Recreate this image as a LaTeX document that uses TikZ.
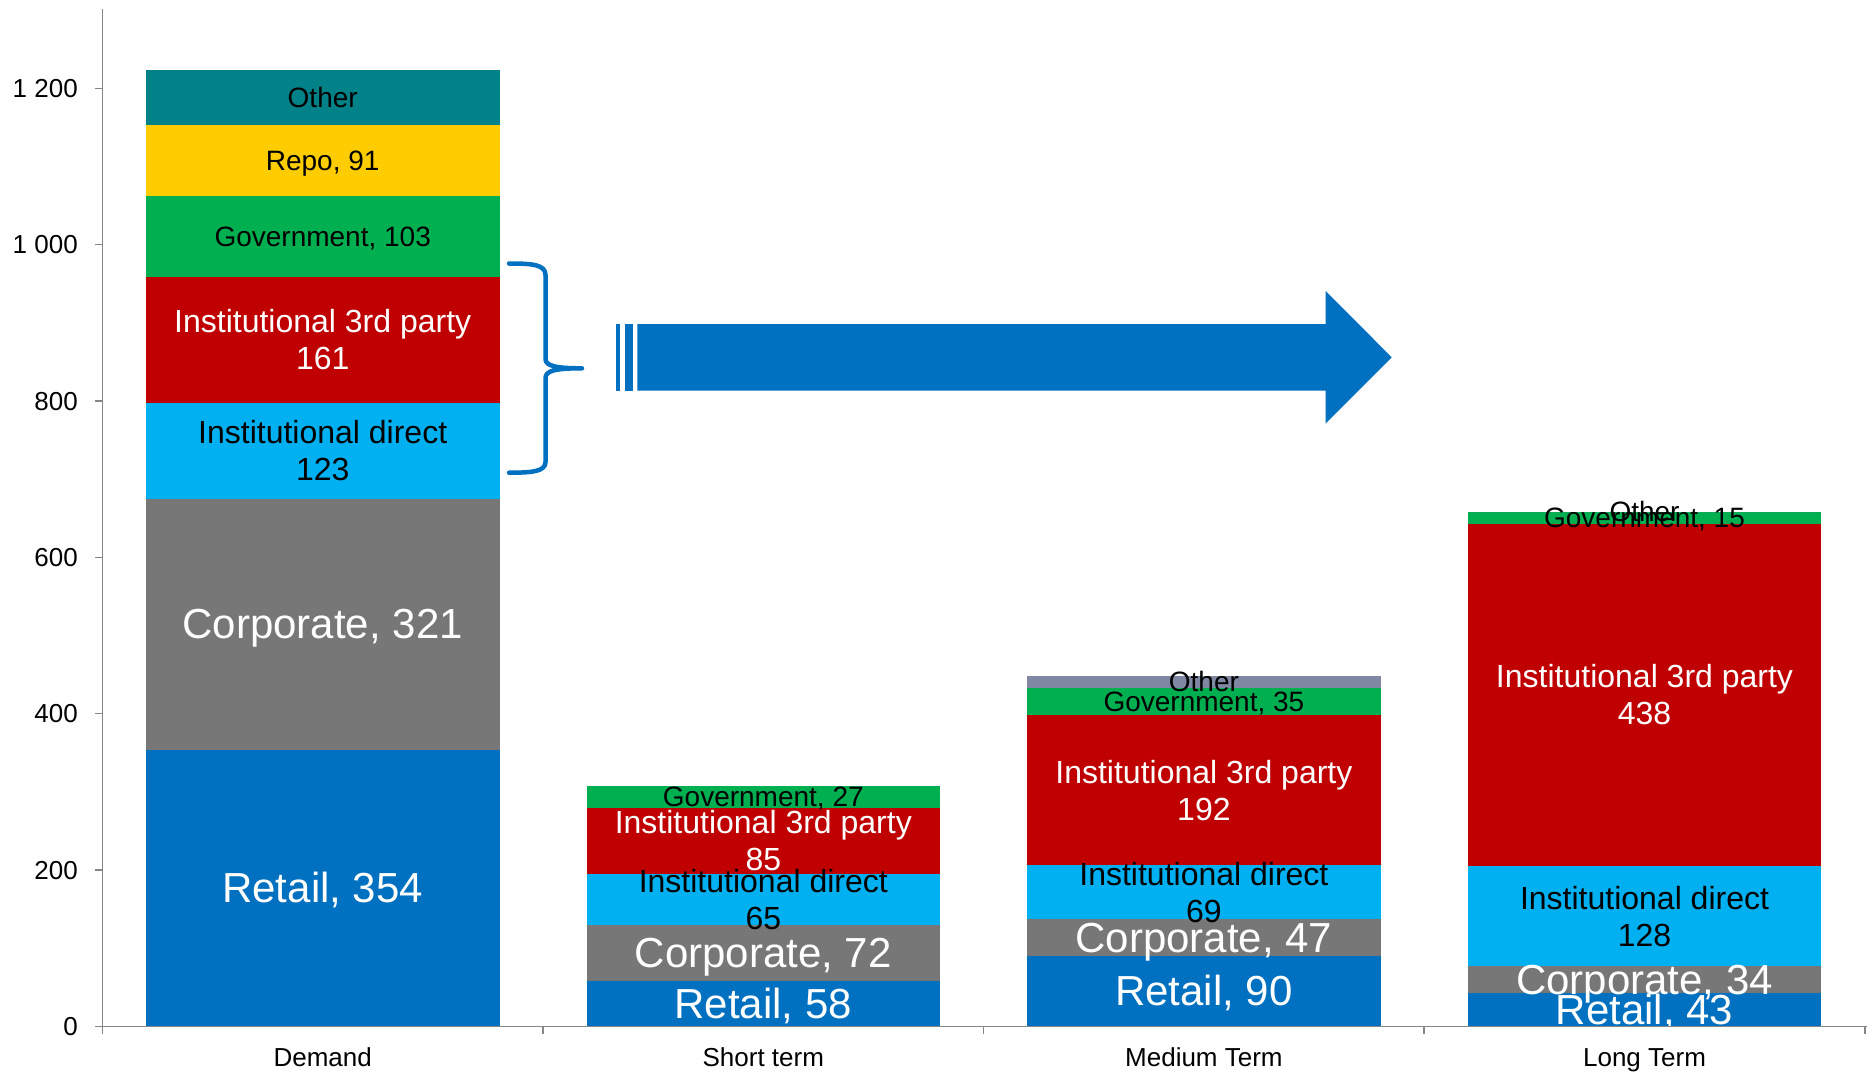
\documentclass[tikz,border=0pt]{standalone}
\usepackage{fontspec}
\setmainfont{Liberation Sans}

\definecolor{cRetail}{HTML}{0070C0}
\definecolor{cCorp}{HTML}{777777}
\definecolor{cDirect}{HTML}{00B0F0}
\definecolor{cThird}{HTML}{C00000}
\definecolor{cGov}{HTML}{00B050}
\definecolor{cRepo}{HTML}{FFCC00}
\definecolor{cOtherA}{HTML}{008288}
\definecolor{cOtherB}{HTML}{8087A2}
\definecolor{axisgray}{HTML}{868686}

% half of a bar's width (pt)
\def\halfbar{176.8}

% stacked bar: #1 name prefix, #2 centre x, #3 list value/colour/style/label
\newcommand\stackbar[3]{%
  \gdef\stackbase{0}%
  \foreach \v/\c/\s/\t in {#3} {%
    \pgfmathsetmacro\stacktop{\stackbase+\v}%
    \fill[\c] (#2-\halfbar,\stackbase) rectangle (#2+\halfbar,\stacktop);
    \global\let\stackbase\stacktop
  }%
  \gdef\stackbase{0}%
  \foreach \v/\c/\s/\t [count=\i] in {#3} {%
    \pgfmathsetmacro\stacktop{\stackbase+\v}%
    \node[\s] (#1\i) at (#2,{(\stackbase+\stacktop)/2}) {\t};
    \global\let\stackbase\stacktop
  }%
}

\begin{document}
\begin{tikzpicture}[x=1pt,y=-1pt,
  axisline/.style={draw=axisgray,line width=1.8pt},
  tickline/.style={draw=axisgray,line width=1.4pt},
  ticklbl/.style={inner sep=0pt,font=\fontsize{26}{30}\selectfont,text=black,
    text height=23.5pt,text depth=5.5pt},
  lblS/.style={inner sep=0pt,font=\fontsize{28}{32}\selectfont,text=black,
    text height=25.3pt,text depth=5.9pt},
  lblM/.style={inner sep=0pt,font=\fontsize{32}{37}\selectfont,text=black,align=center},
  lblMw/.style={lblM,text=white},
  lblL/.style={inner sep=0pt,font=\fontsize{42}{48}\selectfont,text=white,
    text height=38pt,text depth=8.9pt},
  brace/.style={draw=cRetail,line width=4.5pt,line cap=round,line join=round},
]
\useasboundingbox (0,0) rectangle (1867,1073);
\fill[white] (0,0) rectangle (1867,1073);

% stacked bars, values measured upward from the baseline
\begin{scope}[shift={(0pt,-1026.4pt)},y=0.7817pt]
  \stackbar{dem}{322.7}{354/cRetail/lblL/{Retail, 354},
    321/cCorp/lblL/{Corporate, 321},
    123/cDirect/lblM/{Institutional direct\\123},
    161/cThird/lblMw/{Institutional 3rd party\\161},
    103/cGov/lblS/{Government, 103},
    91/cRepo/lblS/{Repo, 91},
    70/cOtherA/lblS/{Other}}
  \stackbar{st}{763.3}{58/cRetail/lblL/{Retail, 58},
    72/cCorp/lblL/{Corporate, 72},
    65/cDirect/lblM/{Institutional direct\\65},
    85/cThird/lblMw/{Institutional 3rd party\\85},
    27/cGov/lblS/{Government, 27}}
  \stackbar{mt}{1203.9}{90/cRetail/lblL/{Retail, 90},
    47/cCorp/lblL/{Corporate, 47},
    69/cDirect/lblM/{Institutional direct\\69},
    192/cThird/lblMw/{Institutional 3rd party\\192},
    35/cGov/lblS/{Government, 35},
    15/cOtherB/lblS/{Other}}
  \stackbar{lt}{1644.5}{43/cRetail/lblL/{Retail, 43},
    34/cCorp/lblL/{Corporate, 34},
    128/cDirect/lblM/{Institutional direct\\128},
    438/cThird/lblMw/{Institutional 3rd party\\438},
    15/cGov/lblS/{Government, 15},
    0/cOtherB/lblS/{Other}}

  % value axis ticks and labels
  \foreach \val/\txt [count=\k] in {0/0,200/200,400/400,600/600,800/800,1000/1 000,1200/1 200} {
    \draw[tickline] (94.5,\val) -- (102.4,\val);
    \node[ticklbl,anchor=east] (ytick\k) at (78,\val) {\txt};
  }
\end{scope}

% axes
\draw[axisline] (102.4,9) -- (102.4,1026.4);
\draw[axisline] (102.4,1026.4) -- (1867,1026.4);
\foreach \xx in {102.4,543,983.5,1424,1865}
  \draw[tickline] (\xx,1026.4) -- (\xx,1034);

% category labels
\node[ticklbl] (catA) at (322.7,1057) {Demand};
\node[ticklbl] (catB) at (763.3,1057) {Short term};
\node[ticklbl] (catC) at (1203.9,1057) {Medium Term};
\node[ticklbl] (catD) at (1644.5,1057) {Long Term};

% brace grouping the institutional segments
\draw[brace] (509,263.5) .. controls (532,263.5) and (545.5,264.5) .. (545.5,275)
  -- (545.5,359) .. controls (545.5,366) and (556,368.3) .. (582,368.3)
  .. controls (556,368.3) and (545.5,370.5) .. (545.5,378)
  -- (545.5,462) .. controls (545.5,471.5) and (532,472.7) .. (509,472.7);

% striped block arrow
\fill[cRetail] (616.3,324) rectangle (620.3,390.5);
\fill[cRetail] (624.7,324) rectangle (633,390.5);
\fill[cRetail] (637.3,324) -- (1325.7,324) -- (1325.7,291) -- (1391.7,357.3)
  -- (1325.7,423.5) -- (1325.7,390.5) -- (637.3,390.5) -- cycle;
\end{tikzpicture}
\end{document}
